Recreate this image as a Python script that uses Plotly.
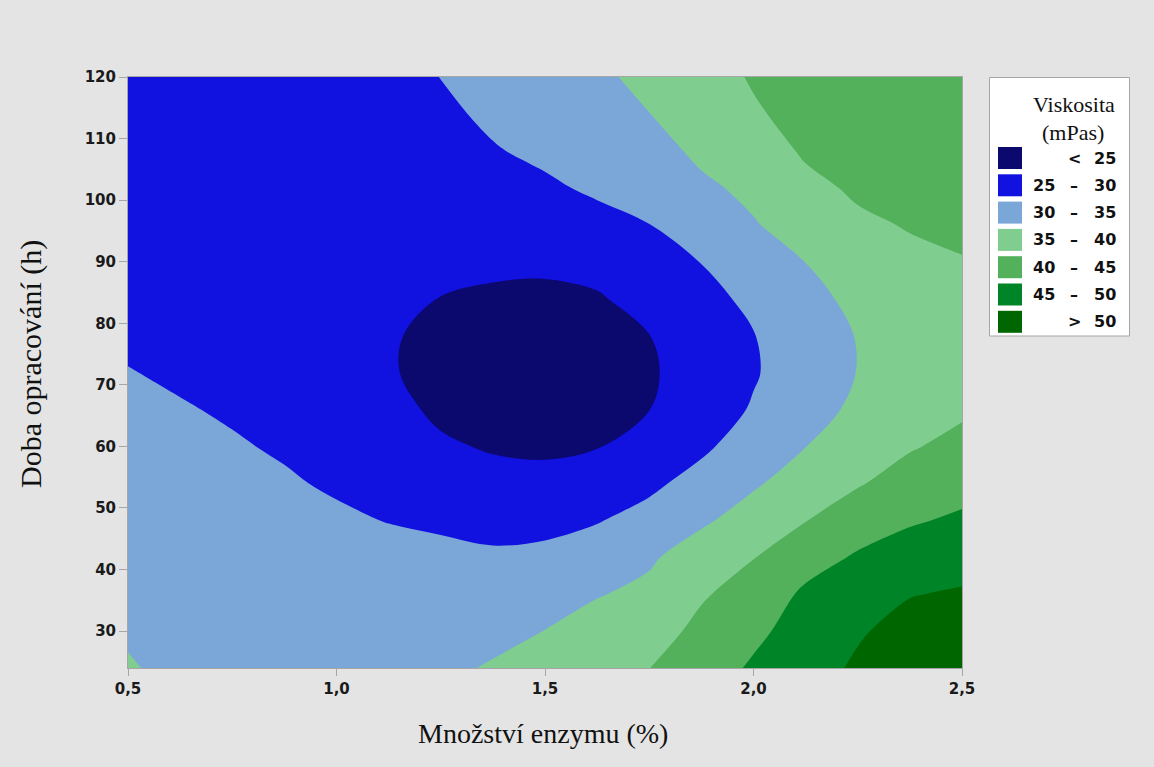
import plotly.graph_objects as go

# Enzyme amount (%) and treatment time (h) grid
enzyme = [0.5, 0.625, 0.75, 0.875, 1.0, 1.125, 1.25, 1.375, 1.5,
          1.625, 1.75, 1.875, 2.0, 2.125, 2.25, 2.375, 2.5]
time_h = [24, 30, 36, 42, 48, 54, 60, 66, 72, 78, 84, 90, 96, 102, 108, 114, 120]

# Viscosity (mPas) per enzyme level, listed along time_h
visc_by_enzyme = [
    [35.3, 34.6, 34.0, 33.3, 32.7, 32.0, 31.4, 30.7, 30.1, 29.5, 29.0, 28.5, 28.0, 27.6, 27.2, 26.8, 26.5],
    [34.1, 33.6, 33.0, 32.4, 31.8, 31.2, 30.7, 30.2, 29.6, 29.0, 28.4, 27.9, 27.5, 27.1, 26.8, 26.6, 26.5],
    [33.4, 33.0, 32.4, 31.8, 31.2, 30.7, 30.25, 29.7, 29.1, 28.5, 27.9, 27.4, 27.0, 26.7, 26.5, 26.5, 26.6],
    [33.1, 32.6, 32.0, 31.4, 30.8, 30.3, 29.7, 29.0, 28.3, 27.7, 27.2, 26.8, 26.5, 26.4, 26.5, 26.7, 27.0],
    [33.0, 32.4, 31.8, 31.1, 30.45, 29.65, 28.7, 27.8, 27.0, 26.6, 26.3, 26.1, 26.1, 26.3, 26.6, 27.1, 27.7],
    [33.3, 32.5, 31.8, 31.0, 29.9, 28.6, 27.4, 26.3, 25.3, 25.35, 25.6, 25.9, 26.2, 26.7, 27.3, 28.0, 28.7],
    [34.1, 33.1, 32.2, 31.1, 29.26, 27.4, 25.57, 24.2, 23.9, 24.1, 24.95, 25.8, 26.65, 27.5, 28.3, 29.15, 30.05],
    [35.4, 33.8, 32.2, 30.6, 28.7, 26.5, 24.6, 23.9, 23.6, 23.8, 24.5, 25.65, 27.0, 28.3, 29.7, 30.8, 31.6],
    [37.1, 35.07, 33.0, 31.0, 28.8, 26.4, 24.2, 23.5, 23.2, 23.4, 24.2, 25.7, 27.5, 29.3, 30.9, 32.0, 32.9],
    [38.8, 37.2, 34.7, 32.2, 29.75, 27.3, 24.8, 23.7, 23.4, 23.7, 24.6, 26.4, 28.6, 30.7, 32.3, 33.4, 34.3],
    [39.95, 37.9, 36.2, 34.3, 31.5, 29.1, 27.0, 24.95, 24.5, 24.95, 26.5, 28.3, 29.95, 31.8, 33.3, 34.95, 36.0],
    [42.7, 41.2, 39.5, 37.6, 34.2, 31.6, 29.2, 27.6, 27.0, 27.3, 28.3, 30.1, 32.0, 34.2, 35.9, 37.2, 38.1],
    [45.6, 44.0, 42.0, 39.85, 37.2, 34.4, 32.2, 30.4, 29.6, 29.85, 31.2, 33.1, 34.7, 36.0, 37.5, 39.5, 40.4],
    [48.0, 46.9, 45.8, 43.1, 39.85, 37.3, 34.95, 33.4, 32.6, 32.6, 33.5, 35.05, 36.9, 38.8, 40.6, 41.4, 42.0],
    [50.7, 49.5, 47.8, 45.5, 42.7, 39.6, 37.3, 35.8, 35.1, 35.2, 36.2, 37.7, 39.2, 40.7, 41.9, 42.7, 43.3],
    [53.0, 51.6, 49.8, 47.2, 44.5, 42.0, 39.6, 38.0, 37.3, 37.3, 38.0, 39.0, 40.3, 41.8, 43.0, 43.8, 44.3],
    [55.3, 53.3, 50.5, 48.1, 45.7, 43.4, 41.3, 39.3, 38.1, 37.8, 38.3, 39.7, 41.3, 42.7, 43.8, 44.5, 44.95],
]

# Contour levels, band labels and band colours
levels = [25, 30, 35, 40, 45, 50]
band_labels = [("", "<", "25"), ("25", "–", "30"), ("30", "–", "35"), ("35", "–", "40"),
               ("40", "–", "45"), ("45", "–", "50"), ("", ">", "50")]
band_colors = ["#0b086e", "#1111e0", "#7ba7d8", "#80cd90", "#53b05b", "#008428", "#006600"]

# rows = time, columns = enzyme
z = [list(row) for row in zip(*visc_by_enzyme)]

# stepped colour scale: band fill is sampled at the band centre
step = levels[1] - levels[0]
lo = levels[0] - step
hi = levels[-1]
cuts = [(lv - lo) / (hi - lo) for lv in levels[:-1]] + [0.96]
colorscale = []
prev = 0.0
for i, col in enumerate(band_colors):
    nxt = cuts[i] if i < len(cuts) else 1.0
    colorscale.append([prev, col])
    colorscale.append([nxt, col])
    prev = nxt

fig = go.Figure()
fig.add_trace(go.Contour(
    x=enzyme, y=time_h, z=z,
    contours=dict(start=levels[0], end=levels[-1], size=step, coloring="fill", showlines=False),
    colorscale=colorscale,
    line=dict(width=0, smoothing=1),
    showscale=False,
    hoverinfo="skip",
))

tick_font = dict(family="DejaVu Sans, sans-serif", size=15, color="#1a1a1a", weight="bold")
serif = "Liberation Serif, Times New Roman, serif"
axis_grey = "#a6a6a6"

fig.update_xaxes(
    range=[0.5, 2.5], tickvals=[0.5, 1.0, 1.5, 2.0, 2.5], tickformat=".1f",
    showline=True, linecolor=axis_grey, linewidth=1, mirror=True,
    ticks="outside", ticklen=7, tickcolor=axis_grey, tickfont=tick_font,
    showgrid=False, zeroline=False,
)
fig.update_yaxes(
    range=[24, 120], tickvals=[30, 40, 50, 60, 70, 80, 90, 100, 110, 120],
    showline=True, linecolor=axis_grey, linewidth=1, mirror=True,
    ticks="outside", ticklen=8, tickcolor=axis_grey, tickfont=tick_font,
    showgrid=False, zeroline=False,
)

L, R, T, B = 128, 192, 77, 99
W, H = 1154, 767
pw, ph = W - L - R, H - T - B


def px_x(px):
    return (px - L) / pw


def px_y(py):
    return (H - B - py) / ph


shapes = []
annotations = []

# axis titles
annotations.append(dict(text="Množství enzymu (%)", xref="paper", yref="paper",
                        x=px_x(543), y=px_y(733), showarrow=False,
                        font=dict(family=serif, size=28, color="#111111"),
                        xanchor="center", yanchor="middle"))
annotations.append(dict(text="Doba opracování (h)", xref="paper", yref="paper",
                        x=px_x(31), y=px_y(364), showarrow=False, textangle=-90,
                        font=dict(family=serif, size=30, color="#111111"),
                        xanchor="center", yanchor="middle"))

# legend box
shapes.append(dict(type="rect", xref="paper", yref="paper",
                   x0=px_x(989.5), x1=px_x(1129.5), y0=px_y(336), y1=px_y(77.5),
                   fillcolor="white", line=dict(color=axis_grey, width=1), layer="above"))
annotations.append(dict(text="Viskosita", xref="paper", yref="paper",
                        x=px_x(1074), y=px_y(104), showarrow=False,
                        font=dict(family=serif, size=22, color="#111111"),
                        xanchor="center", yanchor="middle"))
annotations.append(dict(text="(mPas)", xref="paper", yref="paper",
                        x=px_x(1073), y=px_y(132), showarrow=False,
                        font=dict(family=serif, size=22, color="#111111"),
                        xanchor="center", yanchor="middle"))

leg_font = dict(family="DejaVu Sans, sans-serif", size=16, color="#111111", weight="bold")
for i, (col, (a, sym, b)) in enumerate(zip(band_colors, band_labels)):
    cy = 158 + 27.3 * i
    shapes.append(dict(type="rect", xref="paper", yref="paper",
                       x0=px_x(998), x1=px_x(1022), y0=px_y(cy + 11), y1=px_y(cy - 11),
                       fillcolor=col, line=dict(width=0), layer="above"))
    if a:
        annotations.append(dict(text=a, xref="paper", yref="paper", x=px_x(1031), y=px_y(cy),
                                showarrow=False, font=leg_font, xanchor="left", yanchor="middle"))
    annotations.append(dict(text=sym, xref="paper", yref="paper", x=px_x(1074), y=px_y(cy),
                            showarrow=False, font=leg_font, xanchor="center", yanchor="middle"))
    annotations.append(dict(text=b, xref="paper", yref="paper", x=px_x(1118), y=px_y(cy),
                            showarrow=False, font=leg_font, xanchor="right", yanchor="middle"))

fig.update_layout(
    width=W, height=H,
    margin=dict(l=L, r=R, t=T, b=B),
    paper_bgcolor="#e4e4e4",
    plot_bgcolor="#e4e4e4",
    separators=", ",
    showlegend=False,
    shapes=shapes,
    annotations=annotations,
)

fig.write_html("out.html")
